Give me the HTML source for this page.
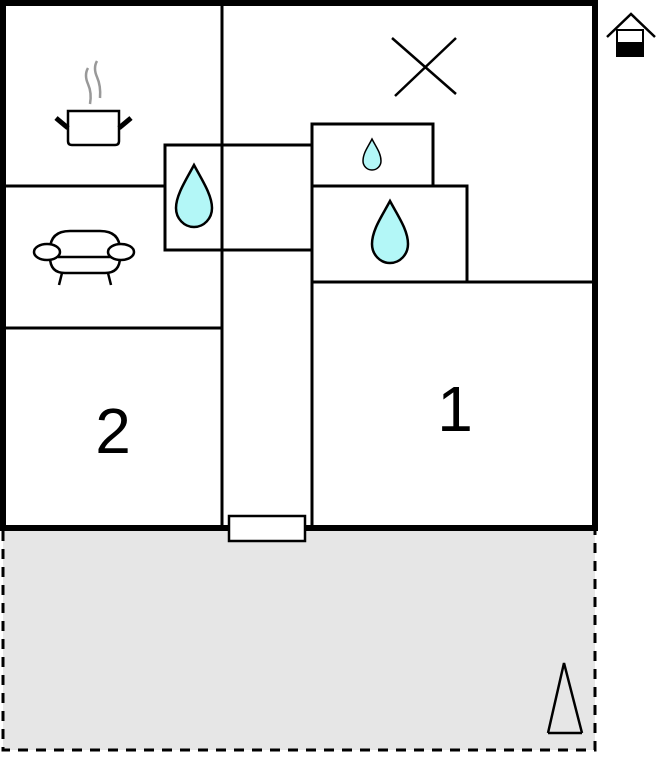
<!DOCTYPE html>
<html><head><style>body{margin:0;background:#fff}svg{display:block}</style></head><body>
<svg width="666" height="768" viewBox="0 0 666 768" xmlns="http://www.w3.org/2000/svg">
<rect x="3" y="528" width="592" height="222" fill="#e6e6e6"/>
<path d="M3 531 V750 H595 V531" fill="none" stroke="#000" stroke-width="3" stroke-dasharray="10 8"/>
<g stroke="#000" stroke-width="3" fill="none">
<line x1="222" y1="3" x2="222" y2="528"/>
<line x1="3" y1="186" x2="165" y2="186"/>
<line x1="3" y1="328" x2="222" y2="328"/>
<rect x="165" y="145" width="57" height="105" fill="#fff"/>
<line x1="222" y1="145" x2="312" y2="145"/>
<line x1="222" y1="250" x2="312" y2="250"/>
<line x1="312" y1="124" x2="312" y2="528"/>
<rect x="312" y="124" width="121" height="62" fill="#fff"/>
<rect x="312" y="186" width="155" height="96" fill="#fff"/>
<line x1="312" y1="282" x2="595" y2="282"/>
</g>
<rect x="3" y="3" width="592" height="525" fill="none" stroke="#000" stroke-width="6"/>
<rect x="229" y="516" width="76" height="25" fill="#fff" stroke="#000" stroke-width="2.5"/>
<g fill="#b3f7f7" stroke="#000" stroke-width="2.5">
<path d="M194 165 C186 180 176 195 176 208 A18 19 0 0 0 212 208 C212 195 202 180 194 165Z"/>
<path d="M372 139 C368 147 363 153 363 161 A9 9 0 0 0 381 161 C381 153 376 147 372 139Z" stroke-width="1.5"/>
<path d="M390 201 C382 216 372 230 372 244 A18 19 0 0 0 408 244 C408 230 398 216 390 201Z"/>
</g>
<g stroke="#000" stroke-width="2.5" fill="none">
<line x1="392" y1="38" x2="456" y2="94"/><line x1="395" y1="96" x2="456" y2="38"/>
<line x1="548" y1="733" x2="582" y2="733"/>
<path d="M548 733 L564 663 L582 733"/>
</g>
<g stroke="#000" stroke-width="2.5" fill="none">
<path d="M68 111 H119 V141 Q119 145 115 145 H72 Q68 145 68 141Z" fill="#fff"/>
</g>
<g stroke="#000" stroke-width="5"><line x1="56" y1="118" x2="68" y2="128"/><line x1="119" y1="128" x2="131" y2="118"/></g>
<g stroke="#999" stroke-width="2.5" fill="none">
<path d="M88 68 Q84 75 88 84 Q92 93 90 104"/><path d="M97 61 Q93 68 97 77 Q101 86 100 98"/>
</g>
<g stroke="#000" stroke-width="2.5" fill="#fff">
<path d="M50 250 Q50 231 70 231 H100 Q120 231 120 250"/>
<path d="M50 257 Q50 273 65 273 H105 Q120 273 120 257"/>
<line x1="62" y1="273" x2="59" y2="285"/><line x1="108" y1="273" x2="111" y2="285"/>
<line x1="58" y1="257" x2="112" y2="257"/>
<ellipse cx="47" cy="252" rx="13" ry="8"/><ellipse cx="121" cy="252" rx="13" ry="8"/>
</g>
<g stroke="#000" stroke-width="2.5" fill="none"><path d="M607 37 L631 14 L655 37"/></g>
<rect x="617" y="30" width="26" height="13" fill="#fff" stroke="#000" stroke-width="2"/>
<rect x="616" y="43" width="28" height="14" fill="#000"/>
<text x="113" y="453" font-family="Liberation Sans, sans-serif" font-size="64" text-anchor="middle">2</text>
<text x="455" y="431" font-family="Liberation Sans, sans-serif" font-size="64" text-anchor="middle">1</text>
</svg>
</body></html>
